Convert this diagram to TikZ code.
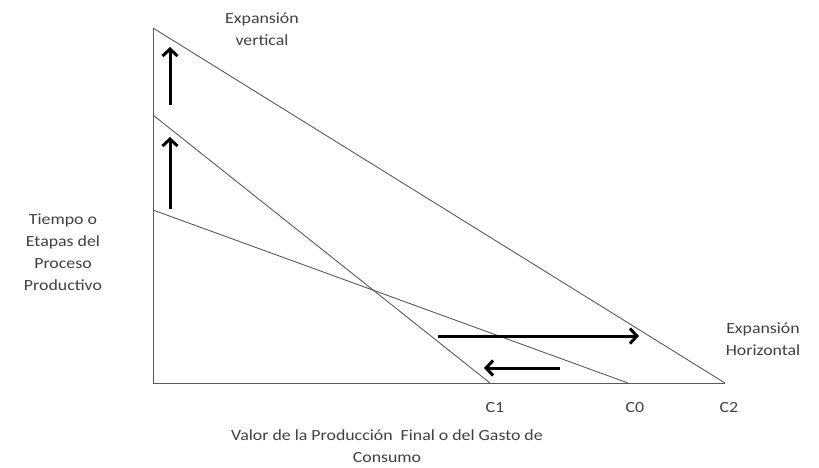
\documentclass[tikz,border=0pt]{standalone}
\usepackage{fontspec}
\setmainfont{Carlito}
\usetikzlibrary{arrows.meta}
\definecolor{txt}{HTML}{404040}
\definecolor{ln}{HTML}{5A5A5A}
\begin{document}
\begin{tikzpicture}[x=1pt,y=-1pt,
  lbl/.style={text=txt,font=\fontsize{15.5}{22}\selectfont,align=center,inner sep=0pt,xscale=1.15},
  thinline/.style={draw=ln,line width=0.9pt},
  bigarrow/.style={draw=black,line width=3pt,-{Straight Barb[length=7pt,width=15pt,line width=3pt]}}]
\useasboundingbox (0,0) rectangle (819,467);
\fill[white] (0,0) rectangle (819,467);
% key points
\coordinate (O) at (153,383);
\coordinate (Top) at (153,28);
\coordinate (Mid) at (153,115);
\coordinate (Low) at (153,210);
\coordinate (C1p) at (490,383);
\coordinate (C0p) at (628,383);
\coordinate (C2p) at (725,383);
% axes
\draw[thinline] (Top) -- (O) -- (C2p);
% lines
\draw[thinline] (Top) -- (C2p);
\draw[thinline] (Mid) -- (C1p);
\draw[thinline] (Low) -- (C0p);
% arrows
\coordinate (a1s) at (170,105); \coordinate (a1e) at (170,47);
\coordinate (a2s) at (170,209); \coordinate (a2e) at (170,137);
\coordinate (a3s) at (438,336); \coordinate (a3e) at (639,336);
\coordinate (a4s) at (560,368); \coordinate (a4e) at (484,368);
\draw[bigarrow] (a1s) -- (a1e);
\draw[bigarrow] (a2s) -- (a2e);
\draw[bigarrow] (a3s) -- (a3e);
\draw[bigarrow] (a4s) -- (a4e);
% labels
\node[lbl] (ev) at (262,29) {Expansión\\vertical};
\node[lbl] (tp) at (63,252) {Tiempo o\\Etapas del\\Proceso\\Productivo};
\node[lbl] (eh) at (763,339) {Expansión\\Horizontal};
\node[lbl] (c1) at (495,408) {C1};
\node[lbl] (c0) at (635,408) {C0};
\node[lbl] (c2) at (729,408) {C2};
\node[lbl] (vx) at (387,446) {Valor de la Producción\ \ Final o del Gasto de\\Consumo};
\end{tikzpicture}
\end{document}
